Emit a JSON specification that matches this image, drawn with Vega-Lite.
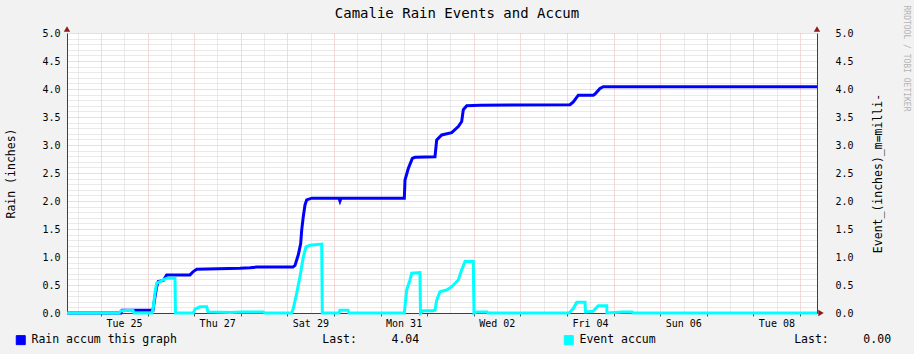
{
  "$schema": "https://vega.github.io/schema/vega-lite/v6.json",
  "width": 750,
  "height": 280,
  "autosize": {"type": "none"},
  "padding": {"left": 67, "top": 33, "right": 97, "bottom": 41},
  "background": "#f2f2f2",
  "title": {"text": "Camalie Rain Events and Accum", "font": "DejaVu Sans Mono", "fontSize": 14, "fontWeight": "normal", "color": "black", "anchor": "middle", "dx": 15, "dy": 20, "offset": 4},
  "config": {"font": "DejaVu Sans Mono", "view": {"stroke": null, "fill": "white"}},
  "datasets": {
    "rain": [
      {"t": "2014-03-24T06:30:00Z", "v": 0},
      {"t": "2014-03-25T10:18:00Z", "v": 0},
      {"t": "2014-03-25T10:49:00Z", "v": 0.05},
      {"t": "2014-03-26T02:47:00Z", "v": 0.05},
      {"t": "2014-03-26T03:49:00Z", "v": 0.29},
      {"t": "2014-03-26T04:41:00Z", "v": 0.47},
      {"t": "2014-03-26T05:31:00Z", "v": 0.56},
      {"t": "2014-03-26T08:05:00Z", "v": 0.58},
      {"t": "2014-03-26T09:50:00Z", "v": 0.68},
      {"t": "2014-03-26T21:50:00Z", "v": 0.68},
      {"t": "2014-03-26T23:32:00Z", "v": 0.74},
      {"t": "2014-03-27T01:17:00Z", "v": 0.78},
      {"t": "2014-03-27T23:35:00Z", "v": 0.8},
      {"t": "2014-03-28T04:44:00Z", "v": 0.81},
      {"t": "2014-03-28T08:11:00Z", "v": 0.82},
      {"t": "2014-03-29T02:53:00Z", "v": 0.82},
      {"t": "2014-03-29T03:55:00Z", "v": 0.85},
      {"t": "2014-03-29T05:37:00Z", "v": 1.04},
      {"t": "2014-03-29T06:51:00Z", "v": 1.24},
      {"t": "2014-03-29T07:22:00Z", "v": 1.48},
      {"t": "2014-03-29T08:11:00Z", "v": 1.72},
      {"t": "2014-03-29T09:04:00Z", "v": 1.93},
      {"t": "2014-03-29T09:56:00Z", "v": 2.02},
      {"t": "2014-03-29T12:31:00Z", "v": 2.05},
      {"t": "2014-03-30T02:35:00Z", "v": 2.05},
      {"t": "2014-03-30T03:05:00Z", "v": 2.0},
      {"t": "2014-03-30T03:37:00Z", "v": 2.05},
      {"t": "2014-03-31T12:13:00Z", "v": 2.05},
      {"t": "2014-03-31T12:34:00Z", "v": 2.375},
      {"t": "2014-03-31T14:16:00Z", "v": 2.58},
      {"t": "2014-03-31T16:20:00Z", "v": 2.76},
      {"t": "2014-03-31T17:43:00Z", "v": 2.78},
      {"t": "2014-04-01T04:01:00Z", "v": 2.79},
      {"t": "2014-04-01T04:54:00Z", "v": 3.09},
      {"t": "2014-04-01T07:28:00Z", "v": 3.18},
      {"t": "2014-04-01T12:37:00Z", "v": 3.22},
      {"t": "2014-04-01T16:01:00Z", "v": 3.33},
      {"t": "2014-04-01T17:46:00Z", "v": 3.42},
      {"t": "2014-04-01T18:36:00Z", "v": 3.63},
      {"t": "2014-04-01T20:21:00Z", "v": 3.7},
      {"t": "2014-04-02T03:11:00Z", "v": 3.71},
      {"t": "2014-04-04T01:33:00Z", "v": 3.72},
      {"t": "2014-04-04T03:15:00Z", "v": 3.77},
      {"t": "2014-04-04T05:49:00Z", "v": 3.89},
      {"t": "2014-04-04T13:33:00Z", "v": 3.89},
      {"t": "2014-04-04T14:25:00Z", "v": 3.91},
      {"t": "2014-04-04T16:59:00Z", "v": 4.01},
      {"t": "2014-04-04T18:41:00Z", "v": 4.04},
      {"t": "2014-04-09T08:45:00Z", "v": 4.04}
    ],
    "event": [
      {"t": "2014-03-24T06:30:00Z", "v": 0},
      {"t": "2014-03-25T09:16:00Z", "v": 0},
      {"t": "2014-03-25T10:18:00Z", "v": 0.04},
      {"t": "2014-03-25T16:29:00Z", "v": 0.05},
      {"t": "2014-03-25T17:00:00Z", "v": 0},
      {"t": "2014-03-26T02:16:00Z", "v": 0},
      {"t": "2014-03-26T02:56:00Z", "v": 0.1},
      {"t": "2014-03-26T03:49:00Z", "v": 0.36},
      {"t": "2014-03-26T04:41:00Z", "v": 0.53},
      {"t": "2014-03-26T06:23:00Z", "v": 0.56},
      {"t": "2014-03-26T08:05:00Z", "v": 0.59},
      {"t": "2014-03-26T09:50:00Z", "v": 0.62},
      {"t": "2014-03-26T14:07:00Z", "v": 0.62},
      {"t": "2014-03-26T14:22:00Z", "v": 0},
      {"t": "2014-03-26T23:32:00Z", "v": 0},
      {"t": "2014-03-27T00:25:00Z", "v": 0.07},
      {"t": "2014-03-27T02:59:00Z", "v": 0.11},
      {"t": "2014-03-27T06:26:00Z", "v": 0.11},
      {"t": "2014-03-27T07:07:00Z", "v": 0.02},
      {"t": "2014-03-27T18:26:00Z", "v": 0.01},
      {"t": "2014-03-28T01:08:00Z", "v": 0.02},
      {"t": "2014-03-28T11:26:00Z", "v": 0.02},
      {"t": "2014-03-28T12:28:00Z", "v": 0},
      {"t": "2014-03-29T02:13:00Z", "v": 0},
      {"t": "2014-03-29T03:02:00Z", "v": 0.08},
      {"t": "2014-03-29T04:47:00Z", "v": 0.35},
      {"t": "2014-03-29T06:29:00Z", "v": 0.65},
      {"t": "2014-03-29T07:22:00Z", "v": 0.83},
      {"t": "2014-03-29T08:11:00Z", "v": 1.0},
      {"t": "2014-03-29T09:35:00Z", "v": 1.18},
      {"t": "2014-03-29T11:38:00Z", "v": 1.21},
      {"t": "2014-03-29T17:40:00Z", "v": 1.23},
      {"t": "2014-03-29T17:59:00Z", "v": 0},
      {"t": "2014-03-30T02:35:00Z", "v": 0},
      {"t": "2014-03-30T03:05:00Z", "v": 0.05},
      {"t": "2014-03-30T07:13:00Z", "v": 0.05},
      {"t": "2014-03-30T07:43:00Z", "v": 0},
      {"t": "2014-03-31T12:13:00Z", "v": 0},
      {"t": "2014-03-31T13:26:00Z", "v": 0.41},
      {"t": "2014-03-31T15:08:00Z", "v": 0.59},
      {"t": "2014-03-31T16:01:00Z", "v": 0.71},
      {"t": "2014-03-31T20:17:00Z", "v": 0.72},
      {"t": "2014-03-31T20:33:00Z", "v": 0},
      {"t": "2014-03-31T21:50:00Z", "v": 0.04},
      {"t": "2014-04-01T02:59:00Z", "v": 0.04},
      {"t": "2014-04-01T04:01:00Z", "v": 0.05},
      {"t": "2014-04-01T04:54:00Z", "v": 0.23},
      {"t": "2014-04-01T06:35:00Z", "v": 0.38},
      {"t": "2014-04-01T10:02:00Z", "v": 0.41},
      {"t": "2014-04-01T12:37:00Z", "v": 0.47},
      {"t": "2014-04-01T16:01:00Z", "v": 0.59},
      {"t": "2014-04-01T17:46:00Z", "v": 0.77},
      {"t": "2014-04-01T19:28:00Z", "v": 0.92},
      {"t": "2014-04-01T23:44:00Z", "v": 0.92},
      {"t": "2014-04-02T00:06:00Z", "v": 0},
      {"t": "2014-04-02T01:39:00Z", "v": 0.02},
      {"t": "2014-04-02T06:48:00Z", "v": 0.02},
      {"t": "2014-04-02T07:19:00Z", "v": 0},
      {"t": "2014-04-04T01:02:00Z", "v": 0},
      {"t": "2014-04-04T03:15:00Z", "v": 0.08},
      {"t": "2014-04-04T05:00:00Z", "v": 0.19},
      {"t": "2014-04-04T09:16:00Z", "v": 0.19},
      {"t": "2014-04-04T09:32:00Z", "v": 0.02},
      {"t": "2014-04-04T13:23:00Z", "v": 0.03},
      {"t": "2014-04-04T16:07:00Z", "v": 0.13},
      {"t": "2014-04-04T20:27:00Z", "v": 0.13},
      {"t": "2014-04-04T20:36:00Z", "v": 0},
      {"t": "2014-04-05T04:50:00Z", "v": 0.02},
      {"t": "2014-04-05T09:29:00Z", "v": 0.02},
      {"t": "2014-04-05T09:59:00Z", "v": 0},
      {"t": "2014-04-09T08:45:00Z", "v": 0}
    ]
  },
  "resolve": {"axis": {"x": "independent", "y": "independent"}},
  "layer": [
    {
      "data": {"name": "rain"},
      "mark": {"type": "line", "strokeWidth": 3, "interpolate": "linear", "strokeJoin": "miter"},
      "encoding": {
        "x": {"field": "t", "type": "temporal",
          "scale": {"type": "utc", "domain": [1395642600000, 1397033100000]},
          "axis": {"orient": "bottom", "zindex": 0, "values": [1395662400000, 1395748800000, 1395835200000, 1395921600000, 1396008000000, 1396094400000, 1396180800000, 1396267200000, 1396353600000, 1396440000000, 1396526400000, 1396612800000, 1396699200000, 1396785600000, 1396872000000, 1396958400000],
            "grid": true, "gridColor": "#d4d4d4", "gridDash": [1, 1], "gridWidth": 1, "labels": false, "ticks": false, "domain": false, "title": null}},
        "y": {"field": "v", "type": "quantitative",
          "scale": {"domain": [0, 5], "nice": false, "zero": true},
          "axis": {"orient": "right", "zindex": 0, "values": [0.1, 0.2, 0.3, 0.4, 0.6, 0.7, 0.8, 0.9, 1.1, 1.2, 1.3, 1.4, 1.6, 1.7, 1.8, 1.9, 2.1, 2.2, 2.3, 2.4, 2.6, 2.7, 2.8, 2.9, 3.1, 3.2, 3.3, 3.4, 3.6, 3.7, 3.8, 3.9, 4.1, 4.2, 4.3, 4.4, 4.6, 4.7, 4.8, 4.9],
            "grid": true, "gridColor": "#d4d4d4", "gridDash": [1, 1], "gridWidth": 1, "labels": false, "ticks": false, "domain": false,
            "title": "RRDTOOL / TOBI OETIKER", "titleAngle": 90, "titleX": 88, "titleY": -28, "titleAlign": "left", "titleBaseline": "middle", "titleFont": "DejaVu Sans Mono", "titleFontSize": 8, "titleFontWeight": "normal", "titleColor": "#b4b4b4"}},
        "color": {"datum": "Rain accum this graph",
          "scale": {"domain": ["Rain accum this graph", "Event accum"], "range": ["#0000ff", "#00ffff"]},
          "legend": {"orient": "none", "legendX": -52, "legendY": 301, "direction": "horizontal", "columns": 2, "columnPadding": 142, "title": null,
            "symbolType": "square", "symbolSize": 81, "symbolStrokeWidth": 1, "labelOffset": 5,
            "labelFont": "DejaVu Sans Mono", "labelFontSize": 11.5, "labelColor": "black", "labelLimit": 1000,
            "labelExpr": "datum.value == 'Rain accum this graph' ? 'Rain accum this graph\u00a0\u00a0\u00a0\u00a0\u00a0\u00a0\u00a0\u00a0\u00a0\u00a0\u00a0\u00a0\u00a0\u00a0\u00a0\u00a0\u00a0\u00a0\u00a0\u00a0\u00a0Last:\u00a0\u00a0\u00a0\u00a0\u00a04.04' : 'Event accum\u00a0\u00a0\u00a0\u00a0\u00a0\u00a0\u00a0\u00a0\u00a0\u00a0\u00a0\u00a0\u00a0\u00a0\u00a0\u00a0\u00a0\u00a0\u00a0\u00a0Last:\u00a0\u00a0\u00a0\u00a0\u00a00.00'",
            "encode": {"symbols": {"update": {"fill": {"scale": "color", "field": "value"}, "stroke": {"value": "black"}, "strokeWidth": {"value": 1}, "opacity": {"value": 1}}}}}}
      }
    },
    {
      "data": {"name": "event"},
      "mark": {"type": "line", "strokeWidth": 3, "interpolate": "linear", "strokeJoin": "miter"},
      "encoding": {
        "x": {"field": "t", "type": "temporal",
          "axis": {"orient": "bottom", "zindex": 0, "values": [1395705600000, 1395792000000, 1395878400000, 1395964800000, 1396051200000, 1396137600000, 1396224000000, 1396310400000, 1396396800000, 1396483200000, 1396569600000, 1396656000000, 1396742400000, 1396828800000, 1396915200000, 1397001600000],
            "grid": true, "gridColor": "#eab4b4", "gridDash": [1, 1], "gridWidth": 1,
            "ticks": true, "tickSize": 3, "tickColor": "#505050", "domain": true, "domainColor": "#404040",
            "labelExpr": "floor((datum.value - 1395705600000) / 86400000 + 0.5) % 2 == 0 ? utcFormat(datum.value, '%a %d') : ''",
            "labelOffset": 23, "labelPadding": 2, "labelFont": "DejaVu Sans Mono", "labelFontSize": 10, "labelColor": "black",
            "labelFlush": false, "labelOverlap": false, "labelBound": false, "title": null}},
        "y": {"field": "v", "type": "quantitative",
          "axis": {"orient": "left", "zindex": 0, "values": [0, 0.5, 1, 1.5, 2, 2.5, 3, 3.5, 4, 4.5, 5], "format": ".1f",
            "grid": true, "gridColor": "#eab4b4", "gridDash": [1, 1], "gridWidth": 1,
            "ticks": false, "domain": true, "domainColor": "#404040", "labelPadding": 7,
            "labelFont": "DejaVu Sans Mono", "labelFontSize": 10, "labelColor": "black",
            "title": "Rain (inches)", "titleFont": "DejaVu Sans Mono", "titleFontSize": 11.5, "titleFontWeight": "normal", "titleColor": "black",
            "titleAngle": 270, "titleX": -56, "titleY": 140, "titleAlign": "center", "titleBaseline": "middle"}},
        "color": {"datum": "Event accum"}
      }
    },
    {
      "data": {"values": [{}]},
      "mark": {"type": "point", "shape": "triangle-up", "filled": true, "size": 40, "yOffset": -4, "color": "#8b1a1a", "opacity": 1},
      "encoding": {
        "x": {"datum": 1395642600000, "type": "temporal", "axis": null},
        "y": {"datum": 5, "type": "quantitative",
          "axis": {"orient": "right", "zindex": 0, "values": [0, 0.5, 1, 1.5, 2, 2.5, 3, 3.5, 4, 4.5, 5], "format": ".1f",
            "grid": false, "ticks": false, "domain": true, "domainColor": "#404040", "labelPadding": 18, "labelAlign": "left",
            "labelFont": "DejaVu Sans Mono", "labelFontSize": 10, "labelColor": "black",
            "title": "Event_(inches)_m=milli-", "titleFont": "DejaVu Sans Mono", "titleFontSize": 11.5, "titleFontWeight": "normal", "titleColor": "black",
            "titleAngle": 270, "titleX": 61, "titleY": 140, "titleAlign": "center", "titleBaseline": "middle"}}
      }
    },
    {
      "data": {"values": [{}]},
      "mark": {"type": "point", "shape": "triangle-up", "filled": true, "size": 40, "yOffset": -4, "color": "#8b1a1a", "opacity": 1},
      "encoding": {
        "x": {"datum": 1397033100000, "type": "temporal", "axis": null},
        "y": {"datum": 5, "type": "quantitative", "axis": null}
      }
    },
    {
      "data": {"values": [{}]},
      "mark": {"type": "point", "shape": "triangle-right", "filled": true, "size": 40, "xOffset": 4, "color": "#8b1a1a", "opacity": 1},
      "encoding": {
        "x": {"datum": 1397033100000, "type": "temporal", "axis": null},
        "y": {"datum": 0, "type": "quantitative", "axis": null}
      }
    }
  ]
}
